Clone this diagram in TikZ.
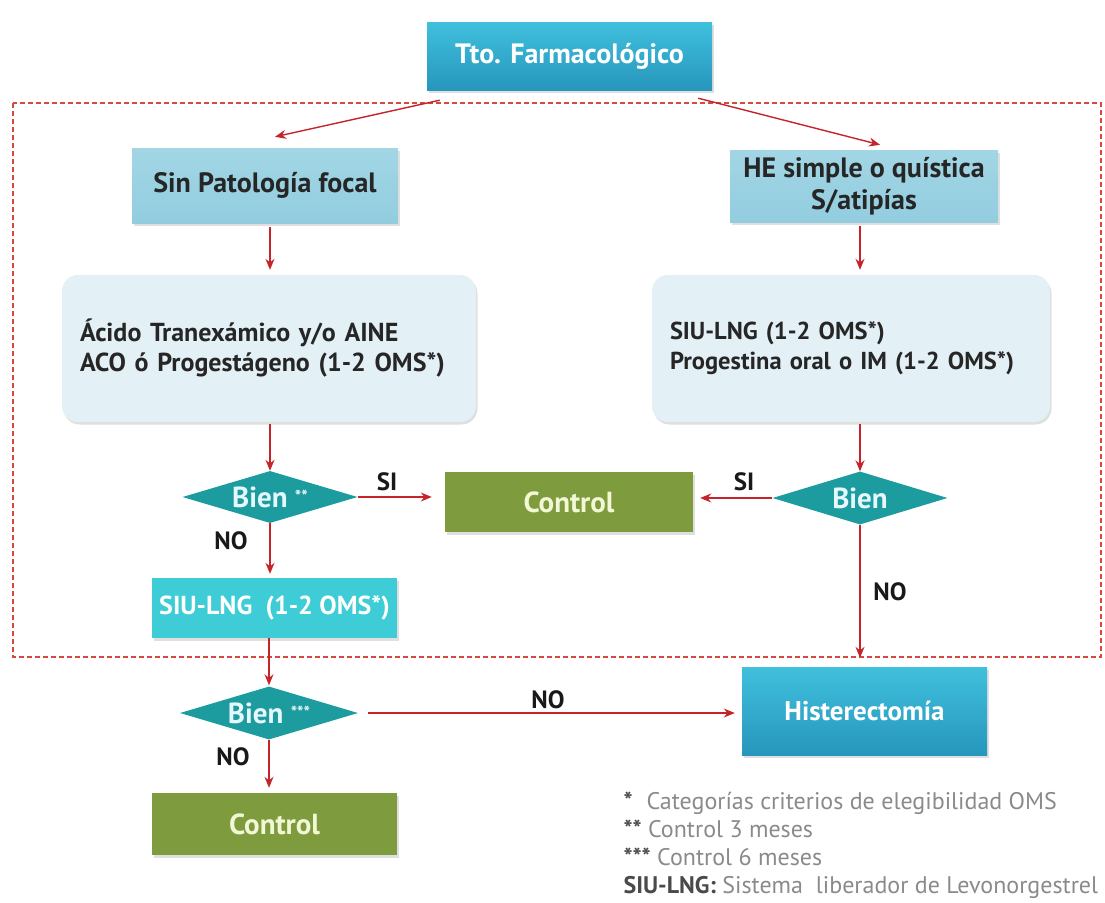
\documentclass[tikz,border=0pt]{standalone}
\usepackage{fontspec}
\setmainfont{PT Sans}
\usetikzlibrary{arrows.meta,shapes.geometric,shadows}

\definecolor{cianClaro}{HTML}{40C0DD}
\definecolor{cianOsc}{HTML}{2796BC}
\definecolor{celeste}{HTML}{A2D6E5}
\definecolor{celesteOsc}{HTML}{92CDDF}
\definecolor{hielo}{HTML}{E3F0F6}
\definecolor{turquesa}{HTML}{1C9C9E}
\definecolor{aguamarina}{HTML}{3ECCD6}
\definecolor{oliva}{HTML}{7E9B3E}
\definecolor{crema}{HTML}{F2F7D5}
\definecolor{rojo}{HTML}{C4242A}
\definecolor{rojoMarco}{HTML}{D9473E}
\definecolor{gris}{HTML}{8A8A8A}
\definecolor{grisOsc}{HTML}{4A4A4A}

\begin{document}
\begin{tikzpicture}[>={Stealth[length=11pt,width=9pt]}, x=1pt, y=-1pt,
  font=\fontsize{28}{32}\selectfont\bfseries,
  sombra/.style={drop shadow={shadow xshift=1.5pt,shadow yshift=-2.5pt,opacity=0.25}},
  caja/.style={rectangle, inner sep=0pt, align=center, sombra},
  cian/.style={caja, top color=cianClaro, bottom color=cianOsc, text=white},
  claro/.style={caja, top color=celeste, bottom color=celesteOsc, text=black!85,
    font=\fontsize{28}{32}\selectfont\bfseries},
  redonda/.style={caja, fill=hielo, rounded corners=16pt, align=left, inner xsep=18pt,
    text=black!85, font=\fontsize{26}{30}\selectfont\bfseries},
  verde/.style={caja, fill=oliva, text=crema, font=\fontsize{29}{32}\selectfont\bfseries},
  agua/.style={caja, fill=aguamarina, text=white, font=\fontsize{26}{30}\selectfont\bfseries},
  decision/.style={diamond, fill=turquesa, text=white!90!cyan, inner sep=0pt, aspect=3.3,
    font=\fontsize{29}{32}\selectfont\bfseries},
  flecha/.style={->, draw=rojo, line width=1.4pt},
  etiqueta/.style={text=black!90, font=\fontsize{25}{30}\selectfont\bfseries},
  marco/.style={draw=rojoMarco, line width=2pt, dash pattern=on 5pt off 3pt},
  leyenda/.style={text=gris, align=left, font=\fontsize{24}{28}\selectfont}]

\useasboundingbox (0,0) rectangle (1105,902);

% marco punteado
\draw[marco] (13,103) rectangle (1101,657);

\node[cian, minimum width=285, minimum height=68] (tto) at (569.5,56) {Tto. Farmacológico};

\node[claro, minimum width=266, minimum height=75] (sinpat) at (265,185.5) {Sin Patología focal};
\node[claro, minimum width=268, minimum height=72] (he) at (864,186) {HE simple o quística\\S/atipías};

\node[redonda, text width=378, minimum height=147] (trat1) at (269,348.5)
  {Ácido Tranexámico y/o AINE\\ACO ó Progestágeno (1-2 OMS*)};
\node[redonda, font=\fontsize{24.5}{30}\selectfont\bfseries, text width=362, minimum height=147]
  (trat2) at (851,348.5)
  {SIU-LNG (1-2 OMS*)\\Progestina oral o IM (1-2 OMS*)};

\node[decision, minimum width=175, minimum height=52] (bien1) at (270,497)
  {Bien {\fontsize{17}{17}\selectfont\raisebox{5pt}{**}}};
\node[decision, minimum width=175, minimum height=53] (bien2) at (860,498) {Bien};
\node[verde, minimum width=248, minimum height=60] (control1) at (569,502) {Control};

\node[agua, minimum width=245, minimum height=60] (siu) at (274.5,608) {SIU-LNG\ \ (1-2 OMS*)};
\node[decision, minimum width=178, minimum height=53] (bien3) at (269,713)
  {Bien {\fontsize{17}{17}\selectfont\raisebox{5pt}{***}}};
\node[cian, font=\fontsize{27}{30}\selectfont\bfseries, minimum width=245, minimum height=88]
  (hister) at (864.5,711) {Histerectomía};
\node[verde, minimum width=245, minimum height=62] (control2) at (274.5,824) {Control};

% flechas
\draw[flecha] ([xshift=13pt,yshift=-10pt]tto.south west) -- ([xshift=10pt,yshift=11pt]sinpat.north);
\draw[flecha] ([xshift=-14pt,yshift=-8pt]tto.south east) -- ([xshift=16pt,yshift=5pt]he.north);
\draw[flecha, shorten <=4pt, shorten >=5pt] (sinpat.south -| bien1) -- (trat1.north -| bien1);
\draw[flecha, shorten <=4pt, shorten >=5pt] (he.south -| bien2) -- (trat2.north -| bien2);
\draw[flecha, shorten <=2pt] (trat1.south -| bien1) -- (bien1.north);
\draw[flecha, shorten <=2pt] (trat2.south -| bien2) -- (bien2.north);
\draw[flecha, shorten >=13pt] (bien1.east) -- (bien1.east -| control1.west);
\draw[flecha, shorten >=7pt] (bien2.west) -- (bien2.west -| control1.east);
\draw[flecha, shorten >=4pt] (bien1.south) -- (bien1.south |- siu.north);
\draw[flecha, shorten >=1pt] (siu.south -| bien3) -- (bien3.north);
\draw[flecha, shorten <=10pt, shorten >=7pt] (bien3.east) -- (bien3.east -| hister.west);
\draw[flecha, shorten >=9pt] (bien2.south) -- (bien2.south |- hister.north);
\draw[flecha, shorten >=5pt] (bien3.south) -- (bien3.south |- control2.north);

% etiquetas
\node[etiqueta] (si1) at (387,482) {SI};
\node[etiqueta] (si2) at (744,482) {SI};
\node[etiqueta] (no1) at (231,541) {NO};
\node[etiqueta] (no2) at (548,700) {NO};
\node[etiqueta] (no3) at (890,592) {NO};
\node[etiqueta] (no4) at (233,757) {NO};

\node[leyenda, anchor=west] (ley) at (620,845)
  {\textcolor{grisOsc}{\textbf{*}}\hspace{14pt}Categorías criterios de elegibilidad OMS\\
   \textcolor{grisOsc}{\textbf{**}} Control 3 meses\\
   \textcolor{grisOsc}{\textbf{***}} Control 6 meses\\
   \textcolor{grisOsc}{\textbf{SIU-LNG:}} Sistema\ \ liberador de Levonorgestrel};
\end{tikzpicture}
\end{document}
